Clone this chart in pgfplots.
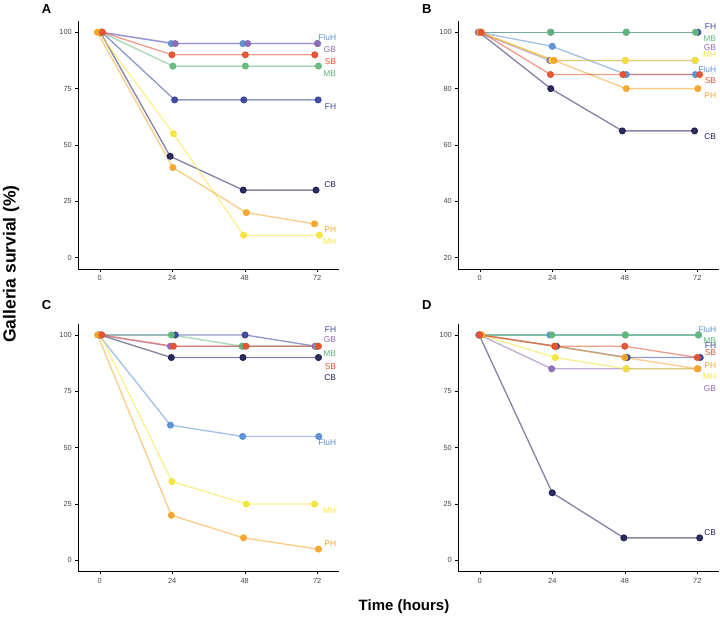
\documentclass[border=0pt]{standalone}
\usepackage{fontspec}
\setmainfont{Liberation Sans}
\usepackage{pgfplots}
\pgfplotsset{compat=1.18}
\definecolor{cFluH}{HTML}{5A8FD3}
\definecolor{cGB}{HTML}{8C6BB5}
\definecolor{cSB}{HTML}{E5502F}
\definecolor{cMB}{HTML}{62B97A}
\definecolor{cFH}{HTML}{39469B}
\definecolor{cCB}{HTML}{222156}
\definecolor{cPH}{HTML}{F5A52A}
\definecolor{cMH}{HTML}{F5E43A}
\pgfplotsset{
  panel/.style={scale only axis, width=261pt, height=248pt,
    xmin=-7.2, xmax=79.2, xtick={0,24,48,72},
    axis x line*=bottom, axis y line*=left,
    tick align=outside, major tick length=2.7pt,
    tick style={black, line width=0.5pt},
    axis line style={black, line width=0.7pt},
    ticklabel style={font=\fontsize{7.4}{8}\selectfont, text=black!72},
    /pgf/number format/assume math mode=true,
    clip=false},
  ser/.style={draw=#1, draw opacity=0.55, line width=1.35pt, mark=*, mark size=2.8pt,
    mark options={draw=none, fill=#1, fill opacity=0.92, draw opacity=1}},
}
\newcommand{\lbl}[3]{\node[anchor=east, text=#1, font=\fontsize{8.4}{9}\selectfont, inner sep=0pt] at (axis cs:78.3,#2) {#3};}
\begin{document}
\begin{tikzpicture}
\path[use as bounding box] (0pt,0pt) rectangle (720pt,618pt);
% Panel A
\begin{axis}[panel, at={(78pt,349pt)}, anchor=south west, ymin=-5, ymax=105, ytick={0,25,50,75,100}]
\addplot[ser=cCB] coordinates {(0.2,100)(23.3,45)(47.5,30)(71.6,30)};
\addplot[ser=cFH] coordinates {(0.7,100)(24.8,70)(47.7,70)(72.3,70)};
\addplot[ser=cFluH] coordinates {(0.4,100)(23.7,95)(47.4,95)(72.1,95)};
\addplot[ser=cGB] coordinates {(0.6,100)(25.0,95)(49.0,95)(72.1,95)};
\addplot[ser=cMB] coordinates {(0.5,100)(24.2,85)(48.2,85)(72.4,85)};
\addplot[ser=cMH] coordinates {(-0.4,100)(24.4,55)(47.6,10)(72.7,10)};
\addplot[ser=cPH] coordinates {(-0.8,100)(24.2,40)(48.5,20)(71.1,15)};
\addplot[ser=cSB] coordinates {(0.9,100)(23.9,90)(48.2,90)(71.2,90)};
\lbl{cFluH}{97.8}{FluH}
\lbl{cGB}{92.5}{GB}
\lbl{cSB}{87.2}{SB}
\lbl{cMB}{81.8}{MB}
\lbl{cFH}{67.2}{FH}
\lbl{cCB}{32.5}{CB}
\lbl{cPH}{12.3}{PH}
\lbl{cMH}{7.2}{MH}
\end{axis}
% Panel B
\begin{axis}[panel, at={(458pt,349pt)}, anchor=south west, ymin=16, ymax=104, ytick={20,40,60,80,100}]
\addplot[ser=cCB] coordinates {(-0.2,100)(23.5,80)(47.2,65)(71.1,65)};
\addplot[ser=cFH] coordinates {(0.2,100)(23.5,100)(48.5,100)(72.2,100)};
\addplot[ser=cFluH] coordinates {(-0.3,100)(24.0,95)(48.5,85)(71.4,85)};
\addplot[ser=cGB] coordinates {(-0.5,100)(23.2,90)(48.2,90)(71.3,90)};
\addplot[ser=cMB] coordinates {(0.0,100)(23.4,100)(48.5,100)(71.4,100)};
\addplot[ser=cMH] coordinates {(0.3,100)(23.9,90)(48.2,90)(71.3,90)};
\addplot[ser=cPH] coordinates {(0.1,100)(24.6,90)(48.5,80)(72.2,80)};
\addplot[ser=cSB] coordinates {(0.5,100)(23.4,85)(47.4,85)(72.8,85)};
\lbl{cFH}{101.9}{FH}
\lbl{cMB}{97.8}{MB}
\lbl{cGB}{94.7}{GB}
\lbl{cMH}{92.1}{MH}
\lbl{cFluH}{86.9}{FluH}
\lbl{cSB}{82.9}{SB}
\lbl{cPH}{77.7}{PH}
\lbl{cCB}{62.8}{CB}
\end{axis}
% Panel C
\begin{axis}[panel, at={(78pt,46.3pt)}, anchor=south west, ymin=-5, ymax=105, ytick={0,25,50,75,100}]
\addplot[ser=cCB] coordinates {(0.1,100)(23.7,90)(47.4,90)(72.4,90)};
\addplot[ser=cFH] coordinates {(0.5,100)(25.0,100)(48.1,100)(71.5,95)};
\addplot[ser=cFluH] coordinates {(-0.3,100)(23.4,60)(47.3,55)(72.5,55)};
\addplot[ser=cGB] coordinates {(-0.5,100)(23.4,95)(47.3,95)(71.3,95)};
\addplot[ser=cMB] coordinates {(0.3,100)(23.7,100)(47.1,95)(72.0,95)};
\addplot[ser=cMH] coordinates {(0.2,100)(23.9,35)(48.5,25)(71.1,25)};
\addplot[ser=cPH] coordinates {(-0.7,100)(23.7,20)(47.6,10)(72.4,5)};
\addplot[ser=cSB] coordinates {(0.7,100)(24.4,95)(48.4,95)(72.4,95)};
\lbl{cFH}{102.4}{FH}
\lbl{cGB}{98.1}{GB}
\lbl{cMB}{91.9}{MB}
\lbl{cSB}{86.0}{SB}
\lbl{cCB}{81.0}{CB}
\lbl{cFluH}{52.2}{FluH}
\lbl{cMH}{22.3}{MH}
\lbl{cPH}{7.5}{PH}
\end{axis}
% Panel D
\begin{axis}[panel, at={(458pt,46.3pt)}, anchor=south west, ymin=-5, ymax=105, ytick={0,25,50,75,100}]
\addplot[ser=cCB] coordinates {(-0.2,100)(24.0,30)(47.7,10)(72.8,10)};
\addplot[ser=cFH] coordinates {(0.5,100)(25.4,95)(48.8,90)(73.0,90)};
\addplot[ser=cFluH] coordinates {(-0.3,100)(23.2,100)(48.2,100)(72.4,100)};
\addplot[ser=cGB] coordinates {(0.0,100)(23.8,85)(48.5,85)(72.2,85)};
\addplot[ser=cMB] coordinates {(0.2,100)(23.9,100)(48.2,100)(72.4,100)};
\addplot[ser=cMH] coordinates {(0.4,100)(25.0,90)(48.5,85)(72.0,85)};
\addplot[ser=cPH] coordinates {(0.7,100)(24.8,95)(48.0,90)(72.0,85)};
\addplot[ser=cSB] coordinates {(-0.1,100)(24.8,95)(48.0,95)(72.0,90)};
\lbl{cFluH}{102.5}{FluH}
\lbl{cMB}{97.3}{MB}
\lbl{cFH}{95.1}{FH}
\lbl{cSB}{92.2}{SB}
\lbl{cPH}{86.6}{PH}
\lbl{cMH}{81.4}{MH}
\lbl{cGB}{76.4}{GB}
\lbl{cCB}{12.2}{CB}
\end{axis}
% panel letters
\node[anchor=base west, font=\fontsize{13}{14}\selectfont\bfseries, inner sep=0pt] at (41.7pt,604.7pt) {A};
\node[anchor=base west, font=\fontsize{13}{14}\selectfont\bfseries, inner sep=0pt] at (422pt,604.7pt) {B};
\node[anchor=base west, font=\fontsize{13}{14}\selectfont\bfseries, inner sep=0pt] at (41.7pt,308.7pt) {C};
\node[anchor=base west, font=\fontsize{13}{14}\selectfont\bfseries, inner sep=0pt] at (422pt,308.7pt) {D};
% axis titles
\node[font=\fontsize{15}{16}\selectfont\bfseries, inner sep=0pt] at (404pt,11pt) {Time (hours)};
\node[font=\fontsize{17.5}{18}\selectfont\bfseries, inner sep=0pt, rotate=90] at (11pt,354pt) {Galleria survial (\%)};
\end{tikzpicture}
\end{document}
